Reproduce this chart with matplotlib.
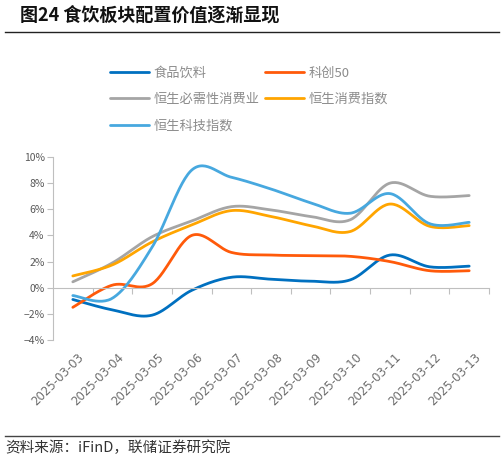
import matplotlib
matplotlib.use("Agg")
import matplotlib.pyplot as plt
import matplotlib.transforms as mtransforms
from matplotlib.lines import Line2D
import numpy as np

plt.rcParams['font.family'] = ['Noto Sans CJK SC', 'DejaVu Sans']
plt.rcParams['axes.unicode_minus'] = True

dates = ["2025-03-03", "2025-03-04", "2025-03-05", "2025-03-06", "2025-03-07",
         "2025-03-08", "2025-03-09", "2025-03-10", "2025-03-11", "2025-03-12",
         "2025-03-13"]

food = [-0.9, -1.7, -2.1, -0.2, 0.8, 0.65, 0.5, 0.6, 2.5, 1.6, 1.65]
kc50 = [-1.5, 0.2, 0.3, 4.0, 2.7, 2.5, 2.45, 2.4, 2.0, 1.3, 1.3]
hs_staples = [0.45, 1.9, 3.9, 5.1, 6.2, 5.95, 5.45, 5.2, 8.0, 7.0, 7.05]
hs_consumer = [0.9, 1.75, 3.5, 4.8, 5.9, 5.45, 4.75, 4.3, 6.4, 4.7, 4.75]
hs_tech = [-0.6, -0.8, 3.1, 9.0, 8.45, 7.55, 6.5, 5.7, 7.2, 4.9, 5.0]

names = ["食品饮料", "科创50", "恒生必需性消费业", "恒生消费指数", "恒生科技指数"]
series = [food, kc50, hs_staples, hs_consumer, hs_tech]
colors = ["#0070C0", "#FF5A0A", "#A5A5A5", "#FFA500", "#47A8DF"]

yticks = [-4, -2, 0, 2, 4, 6, 8, 10]


def smooth(y, n=30):
    # Catmull-Rom style bezier, like the smoothed lines in Excel
    y = np.asarray(y, dtype=float)
    x = np.arange(len(y), dtype=float)
    pts = np.column_stack([x, y])
    out = []
    for i in range(len(pts) - 1):
        p0 = pts[max(i - 1, 0)]
        p1 = pts[i]
        p2 = pts[i + 1]
        p3 = pts[min(i + 2, len(pts) - 1)]
        c1 = p1 + (p2 - p0) / 6
        c2 = p2 - (p3 - p1) / 6
        t = np.linspace(0, 1, n)[:, None]
        seg = ((1 - t) ** 3) * p1 + 3 * ((1 - t) ** 2) * t * c1 \
            + 3 * (1 - t) * t ** 2 * c2 + t ** 3 * p2
        out.append(seg if i == 0 else seg[1:])
    out = np.vstack(out)
    return out[:, 0], out[:, 1]


fig = plt.figure(figsize=(5.04, 4.61), dpi=100)
ax = fig.add_axes([53 / 504, 1 - 340 / 461, 436 / 504, 183 / 461])

handles = []
for name, vals, c in zip(names, series, colors):
    xs, ys = smooth(vals)
    ln, = ax.plot(xs, ys, color=c, lw=2.0, solid_capstyle="round", label=name)
    handles.append(ln)

ax.set_xlim(-0.5, len(dates) - 0.5)
ax.set_ylim(-4, 10)

axis_col = "#BFBFBF"
for s in ["top", "right"]:
    ax.spines[s].set_visible(False)
ax.spines["left"].set_color(axis_col)
ax.spines["bottom"].set_color(axis_col)
ax.spines["bottom"].set_position(("data", 0))

ax.set_yticks(yticks)
ax.set_yticklabels([f"{v}%".replace("-", "\u2212") for v in yticks])
ax.tick_params(axis="y", colors=axis_col, length=4, labelcolor="#595959",
               labelsize=7.5, pad=2)
ax.set_xticks(np.arange(0.5, len(dates), 1.0))
ax.set_xticklabels([])
ax.tick_params(axis="x", colors=axis_col, length=4, direction="out")

trans = mtransforms.blended_transform_factory(ax.transData, ax.transAxes)
for i, d in enumerate(dates):
    ax.text(i + 0.12, -0.06, d, transform=trans, rotation=45, ha="right",
            va="top", rotation_mode="anchor", fontsize=8.5, color="#6E6E6E",
            family=["DejaVu Sans"])

order = [0, 2, 4, 1, 3]
leg = fig.legend([handles[i] for i in order], [names[i] for i in order],
                 loc="upper left", bbox_to_anchor=(98 / 504, 1 - 55 / 461),
                 ncol=2, frameon=False, fontsize=9.5, handlelength=3.0,
                 handletextpad=0.3, columnspacing=0.4, labelspacing=1.0,
                 labelcolor="#8C8C8C")
for t in leg.get_texts():
    t.set_fontweight("light")

fig.text(20 / 504, 1 - 15 / 461, "图24 食饮板块配置价值逐渐显现",
         fontsize=13, fontweight="bold", va="center", ha="left",
         color="#111111")
fig.add_artist(Line2D([5 / 504, 499 / 504], [1 - 32 / 461, 1 - 32 / 461],
                      color="#222222", lw=1.0, transform=fig.transFigure))
fig.add_artist(Line2D([5 / 504, 499 / 504], [1 - 436 / 461, 1 - 436 / 461],
                      color="#444444", lw=1.0, transform=fig.transFigure))
fig.text(5 / 504, 1 - 448 / 461, "资料来源：iFinD，联储证券研究院",
         fontsize=10.5, va="center", ha="left", color="#333333")

fig.savefig("out.png", dpi=100)
